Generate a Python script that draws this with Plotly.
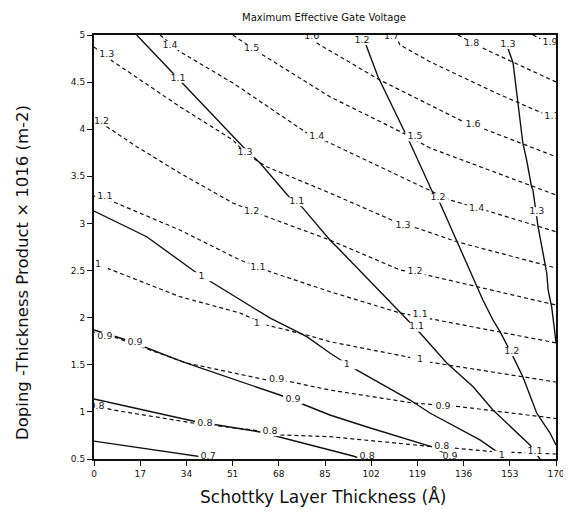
import plotly.graph_objects as go

# ---- data (x: Schottky layer thickness in Å, y: doping-thickness product) ----
# solid contour lines
solid_07_x = [0, 38.3, 45.0]
solid_07_y = [0.69, 0.53, 0.50]
solid_08_x = [0, 36.4, 61.1, 86.8, 95.3, 98.6]
solid_08_y = [1.137, 0.903, 0.787, 0.596, 0.532, 0.50]
solid_09_x = [0, 12.0, 32.7, 68.4, 86.8, 100.5, 124.7, 132.8]
solid_09_y = [1.869, 1.763, 1.530, 1.179, 0.967, 0.840, 0.627, 0.50]
solid_10_x = [0, 19.4, 37.8, 41.9, 53.7, 64.7, 78.3, 86.8, 95.3, 116.3, 123.6, 142.0, 148.2, 151.2]
solid_10_y = [3.132, 2.859, 2.474, 2.400, 2.188, 1.997, 1.798, 1.625, 1.466, 1.126, 0.988, 0.702, 0.578, 0.50]
solid_11_x = [15.7, 28.6, 32.3, 54.8, 61.1, 72.1, 76.4, 86.8, 89.3, 112.6, 120.0, 129.8, 139.5, 146.8, 160.4, 164.1]
solid_11_y = [5.0, 4.611, 4.491, 3.815, 3.642, 3.270, 3.178, 2.824, 2.753, 2.050, 1.837, 1.519, 1.267, 1.020, 0.649, 0.50]
solid_12_x = [99.0, 104.5, 116.3, 124.7, 127.3, 133.5, 140.8, 143.1, 146.8, 149.4, 154.2, 157.8, 162.9, 167.8, 170.0]
solid_12_y = [4.979, 4.557, 3.854, 3.323, 3.217, 2.806, 2.329, 2.188, 1.975, 1.851, 1.586, 1.373, 0.988, 0.776, 0.649]
solid_13_x = [152.3, 154.2, 157.8, 159.2, 161.0, 161.5, 163.4, 166.6, 167.1, 168.4, 169.6, 170.0]
solid_13_y = [4.862, 4.703, 3.854, 3.673, 3.390, 3.355, 2.965, 2.474, 2.294, 2.116, 1.837, 1.731]

# dashed contour lines
dash_08_x = [0, 7.0, 36.4, 63.7, 68.4, 86.8, 124.7, 132.1, 146.8, 159.3, 170.0]
dash_08_y = [1.073, 1.020, 0.882, 0.790, 0.755, 0.737, 0.631, 0.617, 0.578, 0.564, 0.553]
dash_09_x = [0, 8.4, 20.6, 34.1, 63.5, 72.1, 86.8, 117.4, 134.7, 170.0]
dash_09_y = [1.848, 1.784, 1.657, 1.519, 1.339, 1.321, 1.232, 1.094, 1.055, 0.930]
dash_10_x = [0, 4.7, 31.6, 53.7, 63.5, 78.3, 86.8, 117.4, 122.4, 170.0]
dash_10_y = [2.580, 2.527, 2.223, 2.050, 1.922, 1.816, 1.745, 1.572, 1.533, 1.317]
dash_11_x = [0, 7.0, 31.6, 53.7, 64.8, 86.8, 112.6, 126.1, 170.0]
dash_11_y = [3.291, 3.231, 2.930, 2.612, 2.488, 2.276, 2.050, 1.975, 1.733]
dash_12_x = [0, 4.7, 15.7, 31.6, 51.1, 63.5, 86.8, 112.6, 122.4, 170.0]
dash_12_y = [4.098, 4.027, 3.815, 3.535, 3.217, 3.072, 2.824, 2.506, 2.453, 2.134]
dash_13_x = [0, 7.1, 31.6, 51.1, 55.6, 63.5, 86.8, 113.7, 118.7, 133.5, 170.0]
dash_13_y = [4.873, 4.717, 4.239, 3.886, 3.748, 3.602, 3.323, 2.984, 2.952, 2.806, 2.527]
dash_14_x = [24.3, 31.6, 51.1, 78.3, 86.8, 123.6, 131.0, 145.7, 170.0]
dash_14_y = [5.0, 4.823, 4.491, 3.960, 3.854, 3.355, 3.249, 3.125, 2.912]
dash_15_x = [51.1, 61.1, 86.8, 113.7, 123.6, 170.0]
dash_15_y = [5.0, 4.806, 4.345, 3.960, 3.801, 3.302]
dash_16_x = [77.6, 83.2, 105.2, 137.1, 144.5, 170.0]
dash_16_y = [5.0, 4.894, 4.522, 4.063, 3.992, 3.708]
dash_17_x = [110.8, 112.6, 123.6, 148.2, 170.0]
dash_17_y = [5.0, 4.894, 4.717, 4.381, 4.108]
dash_18_x = [133.9, 144.5, 170.0]
dash_18_y = [5.0, 4.841, 4.501]
dash_19_x = [161.5, 170.0]
dash_19_y = [5.0, 4.873]

# contour labels
label_text = ["0.7", "0.8", "0.8", "0.9", "0.9", "1", "1", "1",
              "1.1", "1.1", "1.1", "1.1", "1.2", "1.2", "1.2", "1.3", "1.3",
              "0.8", "0.8", "0.8", "0.9", "0.9", "0.9", "0.9", "1", "1", "1",
              "1.1", "1.1", "1.1", "1.2", "1.2", "1.2", "1.3", "1.3", "1.3",
              "1.4", "1.4", "1.4", "1.5", "1.5", "1.6", "1.6", "1.7", "1.7", "1.8", "1.9"]
label_x = [42.0, 40.8, 100.5, 73.2, 131.0, 39.6, 93.0, 150.0,
           30.9, 74.6, 118.7, 162.3, 98.6, 126.6, 153.7, 152.3, 162.9,
           1.1, 64.8, 128.0, 4.0, 15.1, 67.2, 128.4, 1.5, 59.9, 120.0,
           4.0, 60.3, 120.0, 2.8, 58.0, 118.1, 4.7, 55.6, 113.7,
           28.0, 82.0, 140.8, 58.0, 118.1, 80.1, 139.5, 109.5, 168.5, 139.0, 167.8]
label_y = [0.52, 0.88, 0.52, 1.13, 0.52, 2.435, 1.50, 0.54,
           4.54, 3.23, 1.90, 0.58, 4.94, 3.27, 1.64, 4.90, 3.125,
           1.055, 0.79, 0.63, 1.80, 1.73, 1.34, 1.06, 2.56, 1.94, 1.55,
           3.28, 2.53, 2.03, 4.08, 3.125, 2.49, 4.79, 3.75, 2.98,
           4.89, 3.92, 3.16, 4.86, 3.92, 4.98, 4.045, 4.98, 4.13, 4.91, 4.915]

x_ticks = [0, 17, 34, 51, 68, 85, 102, 119, 136, 153, 170]
y_ticks = [0.5, 1, 1.5, 2, 2.5, 3, 3.5, 4, 4.5, 5]
y_tick_text = ["0.5", "1", "1.5", "2", "2.5", "3", "3.5", "4", "4.5", "5"]

solid_lines = [(solid_07_x, solid_07_y), (solid_08_x, solid_08_y), (solid_09_x, solid_09_y),
               (solid_10_x, solid_10_y), (solid_11_x, solid_11_y), (solid_12_x, solid_12_y),
               (solid_13_x, solid_13_y)]
dashed_lines = [(dash_08_x, dash_08_y), (dash_09_x, dash_09_y), (dash_10_x, dash_10_y),
                (dash_11_x, dash_11_y), (dash_12_x, dash_12_y), (dash_13_x, dash_13_y),
                (dash_14_x, dash_14_y), (dash_15_x, dash_15_y), (dash_16_x, dash_16_y),
                (dash_17_x, dash_17_y), (dash_18_x, dash_18_y), (dash_19_x, dash_19_y)]

FONT = "DejaVu Sans"
fig = go.Figure()
for xs, ys in dashed_lines:
    fig.add_trace(go.Scatter(x=xs, y=ys, mode="lines", showlegend=False, hoverinfo="skip",
                             line=dict(color="#111111", width=1.2, dash="4px,3px")))
for xs, ys in solid_lines:
    fig.add_trace(go.Scatter(x=xs, y=ys, mode="lines", showlegend=False, hoverinfo="skip",
                             line=dict(color="#111111", width=1.4)))
fig.add_trace(go.Scatter(
    x=label_x, y=label_y, mode="markers+text", text=label_text, textposition="middle center",
    showlegend=False, hoverinfo="skip", cliponaxis=True,
    marker=dict(symbol="line-ew", size=14, color="white", line=dict(color="white", width=9)),
    textfont=dict(family=FONT, size=9.5, color="#222222")))

fig.update_layout(
    width=563, height=503,
    margin=dict(l=86, r=15, t=27, b=52),
    paper_bgcolor="white", plot_bgcolor="white",
    font=dict(family=FONT, color="#111111"),
    xaxis=dict(range=[0, 170], tickmode="array", tickvals=x_ticks, ticks="outside", ticklen=5,
               tickwidth=1, tickcolor="#111", showgrid=False, zeroline=False, showline=True,
               mirror=True, linecolor="#111", linewidth=1.5, tickfont=dict(size=9, family=FONT),
               automargin=False, ticklabeloverflow="allow"),
    yaxis=dict(range=[0.5, 5], tickmode="array", tickvals=y_ticks, ticktext=y_tick_text,
               ticks="outside", ticklen=5, tickwidth=1, tickcolor="#111", showgrid=False,
               zeroline=False, showline=True, mirror=True, linecolor="#111", linewidth=2,
               tickfont=dict(size=9, family=FONT), automargin=False, ticklabeloverflow="allow"),
    annotations=[
        dict(text="Maximum Effective Gate Voltage", xref="paper", yref="paper", x=0.497, y=1.042,
             showarrow=False, font=dict(size=10, family=FONT), xanchor="center", yanchor="middle"),
        dict(text="Schottky Layer Thickness (Å)", xref="paper", yref="paper", x=0.496, y=-0.0896,
             showarrow=False, font=dict(size=17, family=FONT), xanchor="center", yanchor="middle"),
        dict(text="Doping -Thickness Product × 1016 (m-2)", xref="paper", yref="paper", x=-0.156,
             y=0.441, textangle=-90, showarrow=False, font=dict(size=16.5, family=FONT),
             xanchor="center", yanchor="middle"),
    ],
)
fig.write_html("out.html")
